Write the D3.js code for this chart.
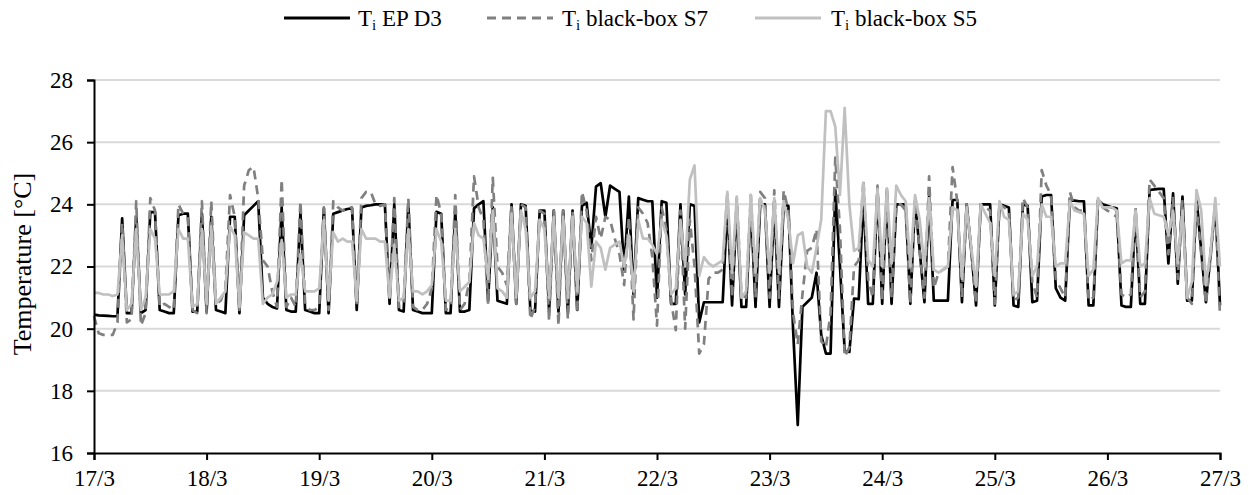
<!DOCTYPE html>
<html>
<head>
<meta charset="utf-8">
<script src="https://cdn.jsdelivr.net/npm/d3@7"></script>
<style>
  html, body { margin: 0; padding: 0; background: #fff; }
  svg text { font-family: "Liberation Serif", "Times New Roman", serif; fill: #000; }
</style>
</head>
<body>
<svg id="chart" width="1249" height="495"></svg>
<script>
// x: hours since 17/3 00:00 (hourly samples)
const dayLabels = ["17/3","18/3","19/3","20/3","21/3","22/3","23/3","24/3","25/3","26/3","27/3"];
const yTicks = [16, 18, 20, 22, 24, 26, 28];
const seriesNames = ["EP D3", "black-box S7", "black-box S5"];

const tiEPD3 = [
20.45,20.43,20.42,20.41,20.40,20.40,23.55,20.50,20.50,23.60,
20.50,20.60,23.75,23.75,20.60,20.55,20.50,20.50,23.65,23.70,
23.70,20.55,20.55,23.70,20.55,23.60,20.60,20.55,20.50,23.60,
23.60,20.50,23.65,23.80,23.95,24.10,21.00,20.80,20.70,20.65,
23.90,20.60,20.55,20.55,23.75,20.60,20.55,20.50,20.50,23.87,
20.50,23.70,23.75,23.80,23.85,23.87,20.60,23.90,23.95,23.97,
24.00,24.00,24.00,20.80,24.00,20.60,20.55,24.00,20.60,20.55,
20.50,20.50,20.50,23.76,23.70,20.50,20.50,23.80,20.55,20.55,
20.60,23.87,24.00,24.10,20.90,23.90,20.90,20.85,20.80,24.00,
20.80,24.00,23.95,20.60,20.55,23.80,23.80,20.55,23.80,20.55,
23.80,20.55,23.80,20.60,23.95,24.05,22.60,24.57,24.68,23.60,
24.60,24.50,24.40,21.90,24.25,21.10,24.20,24.15,24.10,24.10,
21.00,24.10,24.05,20.80,20.80,24.00,21.10,24.00,23.95,20.20,
20.85,20.85,20.85,20.85,20.85,24.00,20.75,23.95,20.70,20.70,
24.00,20.70,24.00,24.00,20.70,23.97,20.70,23.97,23.95,20.00,
16.90,20.70,20.85,21.00,21.80,19.80,19.20,19.20,24.46,22.00,
19.30,19.25,20.97,20.95,24.30,20.80,20.80,24.50,20.80,24.40,
20.80,24.00,24.00,24.00,20.80,24.10,22.50,20.85,24.25,20.90,
20.90,20.90,20.90,24.14,24.14,20.85,24.00,22.50,20.75,24.00,
24.00,24.00,20.75,24.00,23.95,23.90,20.75,20.70,24.00,23.95,
20.85,20.90,24.25,24.30,24.30,21.30,21.00,20.90,24.13,24.12,
24.10,24.10,20.75,20.75,24.13,24.00,23.95,23.90,23.87,20.75,
20.70,20.70,23.80,20.80,20.80,24.46,24.48,24.50,24.50,22.10,
24.35,21.45,24.25,20.90,20.90,24.20,22.50,20.85,22.40,24.00,
20.75];

const tiBBS7 = [
20.40,19.85,19.80,19.80,19.80,20.20,23.40,20.20,20.30,24.10,
20.10,20.50,24.20,23.80,20.70,20.80,20.70,20.60,24.00,23.70,
23.60,20.60,20.50,24.10,20.50,24.10,20.80,20.90,21.30,24.30,
23.60,20.60,24.60,25.10,25.20,24.20,22.20,22.00,21.20,20.70,
24.80,20.70,21.00,20.70,24.10,20.80,20.60,20.60,20.70,23.90,
20.60,24.10,23.90,23.80,23.90,23.90,20.70,24.20,24.40,24.40,
24.00,23.95,24.00,21.00,24.20,20.70,20.80,24.20,20.70,20.60,
20.60,20.80,21.30,24.30,23.70,20.60,20.70,24.30,20.60,20.80,
21.50,24.90,23.90,23.50,20.80,24.85,22.00,21.80,21.40,24.00,
20.80,24.00,23.90,20.30,20.70,23.80,23.70,20.25,23.80,20.10,
23.80,20.30,23.80,20.50,24.40,23.80,22.20,23.60,22.90,23.60,
23.50,22.90,22.40,21.40,23.60,20.30,23.90,23.70,23.40,22.30,
20.10,23.90,23.20,20.90,19.95,23.80,20.00,23.50,22.00,19.20,
19.50,21.60,21.80,21.80,21.90,24.40,21.00,24.20,21.10,21.00,
24.30,21.00,24.40,24.20,21.00,24.45,21.00,24.45,23.80,20.50,
19.50,21.10,22.50,22.60,23.20,19.60,19.40,20.50,25.50,23.20,
19.10,19.40,22.00,22.20,24.80,21.60,21.00,24.60,20.90,24.50,
21.00,24.00,24.00,23.80,20.80,24.10,22.50,21.00,24.90,21.30,
21.80,21.90,22.00,25.20,24.10,21.00,24.00,22.50,20.80,24.00,
23.90,23.80,20.80,24.00,23.90,23.80,20.90,21.00,24.20,23.90,
21.50,21.00,25.10,24.60,24.30,21.60,21.30,21.00,24.40,23.90,
23.80,23.80,20.90,21.00,24.10,23.90,23.80,23.70,23.60,21.10,
21.00,21.10,23.90,21.00,21.20,24.80,24.60,24.40,24.20,22.40,
24.20,21.60,24.10,21.00,20.80,24.00,22.40,20.80,22.30,24.00,
20.40];

const tiBBS5 = [
21.15,21.15,21.10,21.10,21.05,21.10,23.00,20.60,20.80,23.20,
20.60,21.00,23.20,22.90,21.10,21.10,21.10,21.20,23.20,22.90,
22.90,20.70,20.80,23.20,20.80,23.30,20.80,21.00,21.20,23.30,
23.00,20.70,23.10,23.00,22.90,22.90,20.80,21.00,21.10,21.50,
22.85,21.00,21.10,21.10,22.40,21.20,21.20,21.20,21.30,23.50,
20.90,23.10,22.80,22.90,22.80,22.80,20.90,23.20,22.90,22.90,
22.90,22.80,22.80,21.00,22.70,20.90,21.00,23.20,21.20,21.20,
21.10,21.20,21.40,23.20,22.80,20.90,20.90,23.20,21.20,21.35,
21.50,23.40,23.00,22.90,21.60,23.80,21.30,21.20,21.00,23.70,
21.00,23.80,23.20,21.00,21.20,23.50,23.20,21.00,23.60,21.00,
23.60,21.00,23.60,21.20,23.60,23.40,21.35,22.80,22.60,21.90,
22.60,22.70,22.80,22.00,23.00,21.20,23.50,22.90,22.90,22.70,
22.40,23.50,23.00,21.10,21.30,23.50,22.00,24.80,25.25,21.70,
22.30,22.10,22.00,22.10,22.20,24.40,21.80,24.25,21.00,21.20,
24.30,21.80,24.20,23.80,21.80,24.20,21.80,24.10,23.50,22.10,
23.00,23.10,22.00,21.80,22.60,23.50,27.00,27.00,26.50,24.30,
27.10,24.00,22.50,22.60,24.70,22.20,22.00,24.50,22.00,24.50,
22.10,24.60,24.30,24.10,22.00,24.30,23.50,22.00,24.20,21.90,
21.80,21.90,22.00,23.90,23.80,21.60,23.90,22.60,21.35,24.00,
23.70,23.40,21.70,24.10,23.60,23.50,21.10,21.20,23.70,23.50,
21.70,22.00,24.00,23.60,23.60,22.00,22.10,22.10,24.10,23.80,
23.75,23.70,21.70,21.90,24.20,23.90,23.90,23.90,23.80,22.10,
22.20,22.20,23.80,22.00,22.10,24.20,23.70,23.65,23.60,23.00,
23.80,22.10,23.80,21.00,21.50,24.46,23.80,21.40,22.50,24.20,
22.00];

const svg = d3.select("#chart");
const W = 1249, H = 495;
const margin = {left: 94, right: 29, top: 80, bottom: 42};

const x = d3.scaleLinear().domain([0, 240]).range([margin.left, W - margin.right]);
const y = d3.scaleLinear().domain([16, 28]).range([H - margin.bottom, margin.top]);

const FS = 23;

// gridlines
svg.append("g").selectAll("line").data(yTicks.filter(t => t > 16)).join("line")
  .attr("x1", x(0)).attr("x2", x(240))
  .attr("y1", d => y(d)).attr("y2", d => y(d))
  .attr("stroke", "#d9d9d9").attr("stroke-width", 2);

const line = d3.line().x((d, i) => x(i)).y(d => y(d));

const series = [
  {name: seriesNames[0], data: tiEPD3, color: "#000000", dash: null, width: 2.7},
  {name: seriesNames[1], data: tiBBS7, color: "#808080", dash: "9,6", width: 2.7},
  {name: seriesNames[2], data: tiBBS5, color: "#c0c0c0", dash: null, width: 2.7}
];

const plot = svg.append("g");
series.forEach(s => {
  plot.append("path").datum(s.data)
    .attr("d", line)
    .attr("fill", "none")
    .attr("stroke", s.color)
    .attr("stroke-width", s.width)
    .attr("stroke-linejoin", "round")
    .attr("stroke-dasharray", s.dash);
});

// axes
const yAxis = d3.axisLeft(y).tickValues(yTicks).tickSize(7).tickPadding(14).tickFormat(d3.format("d"));
const gy = svg.append("g").attr("transform", `translate(${x(0)},0)`).call(yAxis);
gy.select(".domain").attr("stroke", "#000").attr("stroke-width", 2);
gy.selectAll(".tick line").attr("stroke", "#000").attr("stroke-width", 2);
gy.selectAll("text").attr("font-size", FS).attr("font-family", "Liberation Serif");

const xAxis = d3.axisBottom(x).tickValues(d3.range(0, 241, 24)).tickSize(7).tickPadding(10)
  .tickFormat((d, i) => dayLabels[i]);
const gx = svg.append("g").attr("transform", `translate(0,${y(16)})`).call(xAxis);
gx.select(".domain").attr("stroke", "#000").attr("stroke-width", 2);
gx.selectAll(".tick line").attr("stroke", "#000").attr("stroke-width", 2);
gx.selectAll("text").attr("font-size", FS).attr("font-family", "Liberation Serif");

// y axis title
svg.append("text")
  .attr("transform", `translate(31,264) rotate(-90)`)
  .attr("text-anchor", "middle")
  .attr("font-size", 26)
  .text("Temperature [°C]");

// legend
const legendItems = [
  {s: series[0], lx: 284, tx: 358},
  {s: series[1], lx: 487, tx: 562},
  {s: series[2], lx: 755, tx: 831}
];
const ly = 18;
legendItems.forEach(it => {
  svg.append("line")
    .attr("x1", it.lx).attr("x2", it.lx + 66)
    .attr("y1", ly).attr("y2", ly)
    .attr("stroke", it.s.color).attr("stroke-width", 3)
    .attr("stroke-dasharray", it.s.dash);
  const t = svg.append("text").attr("x", it.tx).attr("y", ly + 8).attr("font-size", FS);
  t.append("tspan").text("T");
  t.append("tspan").attr("font-size", FS * 0.65).attr("dy", 4).text("i");
  t.append("tspan").attr("dy", -4).text(" " + it.s.name);
});
</script>
</body>
</html>
